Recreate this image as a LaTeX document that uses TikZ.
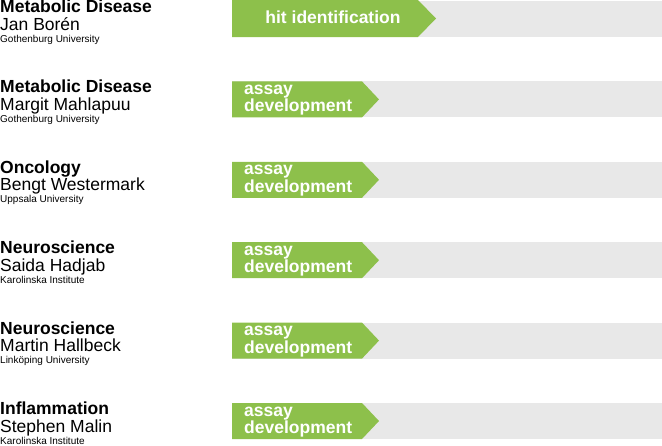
\documentclass[tikz,border=0pt]{standalone}
\usepackage{fontspec}
\setmainfont{Liberation Sans}
\usepackage{xcolor}
\usepackage{tikz}
\definecolor{barGreen}{HTML}{8DC04B}
\definecolor{barGray}{HTML}{E8E8E8}

\begin{document}
\begin{tikzpicture}[x=1pt,y=-1pt,
	field/.style={font=\bfseries\fontsize{17.5}{17.5}\selectfont,anchor=base west,inner sep=0pt},
	person/.style={font=\fontsize{17.5}{17.5}\selectfont,anchor=base west,inner sep=0pt},
	place/.style={font=\fontsize{10}{10}\selectfont,anchor=base west,inner sep=0pt},
	stage/.style={font=\bfseries\fontsize{17.5}{17.5}\selectfont,text=white,inner sep=0pt}]
	\useasboundingbox (0,0) rectangle (662,445);
	
	% first row: hit identification
	\fill[barGray] (232,1) rectangle (662,37);
	\fill[barGreen] (232,0) -- (418,0) -- (436,18.5) -- (418,37) -- (232,37) -- cycle;
	\node[field] (field0) at (0,12.5) {Metabolic Disease};
	\node[person] (person0) at (0,30) {Jan Borén};
	\node[place] (place0) at (0,42) {Gothenburg University};
	\node[stage,anchor=base] (stage0) at (333,23) {hit identification};
	
	% other rows: assay development
	\foreach \field/\person/\place [count=\i] in {
		Metabolic Disease/Margit Mahlapuu/Gothenburg University,
		Oncology/Bengt Westermark/Uppsala University,
		Neuroscience/Saida Hadjab/Karolinska Institute,
		Neuroscience/Martin Hallbeck/Linköping University,
		Inflammation/Stephen Malin/Karolinska Institute} {
		\pgfmathsetmacro{\t}{1+80.4*\i}
		\fill[barGray] (232,\t) rectangle (662,\t+36);
		\fill[barGreen] (232,\t) -- (362,\t) -- (379,\t+18) -- (362,\t+36) -- (232,\t+36) -- cycle;
		\node[field] (field\i) at (0,\t+11.5) {\field};
		\node[person] (person\i) at (0,\t+29) {\person};
		\node[place] (place\i) at (0,\t+41) {\place};
		\node[stage,align=left,anchor=base west] (stage\i) at (244,\t+30.5) {assay\\development};
	}
\end{tikzpicture}
\end{document}
